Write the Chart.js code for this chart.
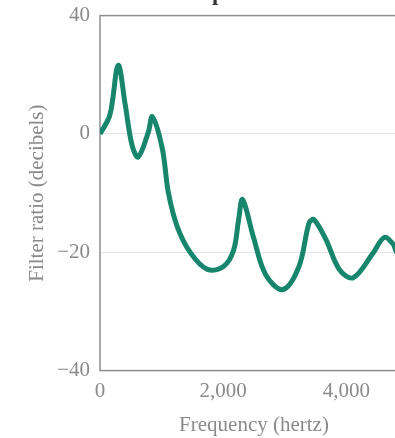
<!DOCTYPE html>
<html>
<head>
<meta charset="utf-8">
<script src="https://cdn.jsdelivr.net/npm/chart.js@4/dist/chart.umd.min.js"></script>
<style>
  html, body { margin: 0; padding: 0; background: #fff; }
  #wrap { position: relative; width: 395px; height: 438px; overflow: hidden; }
  #box { position: absolute; left: 0; top: -20px; width: 410px; height: 458px; }
</style>
</head>
<body>
<div id="wrap"><div id="box"><canvas id="spectrumChart"></canvas></div></div>
<script>
// values
var frequency = [0, 160, 295, 410, 520, 620, 785, 850, 1010, 1110, 1255, 1470, 1745, 2005, 2170, 2250, 2315, 2495, 2690, 2970, 3230, 3395, 3475, 3670, 3885, 4110, 4435, 4615, 4765, 4810, 5000];
var filterRatio = [0, 3.2, 11.6, 4.9, -1.9, -3.9, 0.3, 2.9, -2.4, -9.9, -15.7, -20.1, -22.9, -22.4, -19.6, -14.5, -11.1, -17.6, -23.8, -26.3, -22.4, -15.0, -14.5, -17.9, -22.9, -24.3, -20.1, -17.5, -18.7, -19.9, -22];

var yTickValues = [-40, -20, 0, 20];
var yTickLabels = ['\u221240', '\u221220', '0', '40'];
var xTickValues = [0, 2000, 4000];
var xTickLabels = ['0', '2,000', '4,000'];

var serif = '"Liberation Serif", "Times New Roman", serif';

var points = frequency.map(function (f, i) {
  return { x: f, y: filterRatio[i] };
});

// box round the plot area
var framePlugin = {
  id: 'frame',
  beforeDatasetsDraw: function (chart) {
    var a = chart.chartArea;
    var c = chart.ctx;
    c.save();
    c.strokeStyle = '#8e8e8e';
    c.lineWidth = 1.5;
    c.strokeRect(a.left, a.top, a.right - a.left, a.bottom - a.top);
    c.restore();
  }
};

var ctx = document.getElementById('spectrumChart').getContext('2d');
var spectrumChart = new Chart(ctx, {
  type: 'line',
  data: {
    datasets: [{
      data: points,
      borderColor: '#17866c',
      borderWidth: 5,
      pointRadius: 0,
      fill: false,
      tension: 0.35
    }]
  },
  plugins: [framePlugin],
  options: {
    responsive: true,
    maintainAspectRatio: false,
    animation: false,
    layout: { padding: { left: 0, right: 2, top: 0, bottom: 0 } },
    plugins: {
      legend: { display: false },
      tooltip: { enabled: false },
      title: {
        display: true,
        text: 'Acoustic spectrum',
        color: '#333',
        font: { family: serif, size: 23, weight: 'bold' },
        padding: { top: 0, bottom: 8 }
      }
    },
    scales: {
      x: {
        type: 'linear',
        min: 0,
        max: 5000,
        afterBuildTicks: function (scale) {
          scale.ticks = xTickValues.map(function (v) { return { value: v }; });
        },
        ticks: {
          padding: 0,
          color: '#8a8a8a',
          font: { family: serif, size: 21 },
          maxRotation: 0,
          callback: function (v, i) { return xTickLabels[i]; }
        },
        grid: { display: false },
        border: { display: false },
        title: {
          display: true,
          text: 'Frequency (hertz)',
          color: '#8a8a8a',
          font: { family: serif, size: 21 },
          padding: { top: 9, bottom: 0 }
        }
      },
      y: {
        type: 'linear',
        min: -40,
        max: 20,
        afterFit: function (scale) { scale.width = 100; },
        afterBuildTicks: function (scale) {
          scale.ticks = yTickValues.map(function (v) { return { value: v }; });
        },
        ticks: {
          padding: 10,
          color: '#8a8a8a',
          font: { family: serif, size: 21 },
          callback: function (v, i) { return yTickLabels[i]; }
        },
        grid: {
          drawTicks: false,
          color: function (c) {
            return (c.tick && (c.tick.value === 0 || c.tick.value === -20)) ? '#e4e4e4' : 'rgba(0,0,0,0)';
          }
        },
        border: { display: false },
        title: {
          display: true,
          text: 'Filter ratio (decibels)',
          color: '#8a8a8a',
          font: { family: serif, size: 21 },
          padding: { top: 25, bottom: 0 }
        }
      }
    }
  }
});
</script>
</body>
</html>
